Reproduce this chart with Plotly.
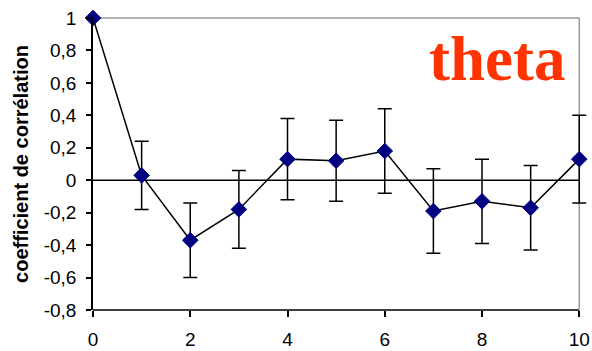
import plotly.graph_objects as go

# Autocorrelation of theta by lag, with confidence half-widths
lags = [0, 1, 2, 3, 4, 5, 6, 7, 8, 9, 10]
correlation = [1.0, 0.03, -0.37, -0.18, 0.13, 0.12, 0.18, -0.19, -0.13, -0.17, 0.13]
error_half = [0.0, 0.21, 0.23, 0.24, 0.25, 0.25, 0.26, 0.26, 0.26, 0.26, 0.27]

y_ticks = [1, 0.8, 0.6, 0.4, 0.2, 0, -0.2, -0.4, -0.6, -0.8]
y_tick_text = ["1", "0,8", "0,6", "0,4", "0,2", "0", "-0,2", "-0,4", "-0,6", "-0,8"]
x_ticks = [0, 2, 4, 6, 8, 10]

x_min, x_max = 0, 10
x_range_max = 10.2          # small headroom so the last error bar is not clipped
y_min, y_max = -0.8, 1

# fraction of the plotting width where the last lag sits
x_end = (x_max - x_min) / (x_range_max - x_min)

fig = go.Figure()
fig.add_trace(go.Scatter(
    x=lags,
    y=correlation,
    mode="lines+markers",
    line=dict(color="black", width=1.5),
    marker=dict(symbol="diamond", size=12, color="#000080",
                line=dict(color="#000080", width=1)),
    error_y=dict(type="data", array=error_half, visible=True,
                 color="black", thickness=1.5, width=7),
    cliponaxis=False,
    showlegend=False,
))

# Frame lines stop at the last lag
frame = [
    # bottom axis line
    dict(type="line", xref="paper", yref="paper", x0=0, x1=x_end, y0=0, y1=0,
         layer="below", line=dict(color="black", width=1.5)),
    # zero line
    dict(type="line", xref="x", yref="y", x0=x_min, x1=x_max, y0=0, y1=0,
         layer="below", line=dict(color="black", width=1.5)),
    # grey top and right border
    dict(type="line", xref="paper", yref="paper", x0=0, x1=x_end, y0=1, y1=1,
         layer="below", line=dict(color="#9a9a9a", width=1.5)),
    dict(type="line", xref="paper", yref="paper", x0=x_end, x1=x_end, y0=0, y1=1,
         layer="below", line=dict(color="#9a9a9a", width=1.5)),
]

fig.update_layout(
    width=592, height=351,
    margin=dict(l=93, r=3, t=18, b=41),
    paper_bgcolor="white",
    plot_bgcolor="rgba(0,0,0,0)",
    font=dict(family="Liberation Sans, Arial, sans-serif", size=19, color="black"),
    xaxis=dict(
        range=[x_min, x_range_max],
        tickvals=x_ticks,
        ticks="outside", ticklen=6, tickwidth=1.5, tickcolor="black",
        showline=False,
        showgrid=False, zeroline=False,
        ticklabelstandoff=6,
        automargin=False,
    ),
    yaxis=dict(
        range=[y_min, y_max],
        tickvals=y_ticks,
        ticktext=y_tick_text,
        ticks="outside", ticklen=5, tickwidth=1.5, tickcolor="black",
        showline=True, linecolor="black", linewidth=1.5,
        showgrid=False,
        zeroline=False,
        ticklabelstandoff=6,
        automargin=False,
        title=dict(text="<b>coefficient de corrélation</b>",
                   font=dict(size=20), standoff=10),
    ),
    shapes=frame,
    annotations=[
        dict(text="<b>theta</b>", xref="x", yref="paper",
             x=9.75, y=0.985, xanchor="right", yanchor="top", showarrow=False,
             font=dict(family="Liberation Serif, Times New Roman, serif",
                       size=63, color="#ff3300")),
    ],
)

fig.write_html("out.html")
